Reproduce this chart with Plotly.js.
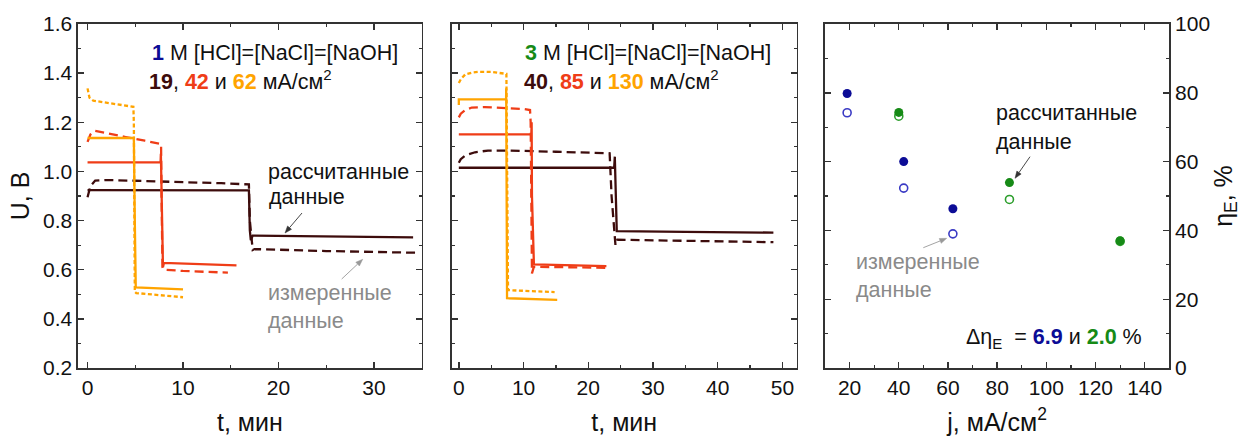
<!DOCTYPE html>
<html><head><meta charset="utf-8">
<script src="https://cdn.plot.ly/plotly-3.0.1.min.js"></script>
<style>html,body{margin:0;padding:0;background:#fff}#chart{width:1241px;height:436px}</style>
</head><body><div id="chart"></div>
<script>
// ---- Panel 1: 1 M, U vs t ----
const t19calc = [0, 16.9, 17.0, 17.1, 17.3, 26, 34.1];
const U19calc = [0.924, 0.923, 0.76, 0.72, 0.739, 0.736, 0.732];
const t19meas = [0, 0.3, 0.8, 2, 5, 10, 14, 16.9, 17.0, 17.3, 17.5, 25, 34.6];
const U19meas = [0.895, 0.94, 0.963, 0.965, 0.962, 0.957, 0.952, 0.947, 0.80, 0.68, 0.684, 0.676, 0.669];
const t42calc = [0, 7.65, 7.68, 7.72, 7.9, 8.0, 15.6];
const U42calc = [1.037, 1.037, 1.072, 1.0, 0.61, 0.628, 0.618];
const t42meas = [0, 0.3, 0.8, 2, 4, 6, 7.7, 7.75, 7.85, 8.0, 10, 14.7];
const U42meas = [1.12, 1.15, 1.165, 1.155, 1.14, 1.125, 1.112, 0.9, 0.61, 0.60, 0.595, 0.588];
const t62calc = [0, 4.85, 4.95, 5.05, 10.0];
const U62calc = [1.136, 1.136, 0.80, 0.528, 0.52];
const t62meas = [0, 0.2, 0.6, 2, 4, 4.8, 4.85, 4.95, 5.1, 7, 10.0];
const U62meas = [1.338, 1.30, 1.288, 1.28, 1.27, 1.263, 1.20, 0.51, 0.505, 0.498, 0.488];

// ---- Panel 2: 3 M, U vs t ----
const t40calc = [0, 24.0, 24.1, 24.2, 24.4, 35, 48.6];
const U40calc = [1.015, 1.015, 1.06, 0.9, 0.757, 0.754, 0.751];
const t40meas = [0, 0.3, 1, 2.5, 4.5, 8, 15, 23.3, 23.6, 24.2, 24.5, 35, 48.6];
const U40meas = [1.035, 1.05, 1.065, 1.078, 1.085, 1.085, 1.08, 1.074, 0.9, 0.70, 0.722, 0.717, 0.712];
const t85calc = [0, 11.2, 11.25, 11.3, 11.6, 17, 22.8];
const U85calc = [1.151, 1.151, 1.20, 0.9, 0.622, 0.618, 0.615];
const t85meas = [0, 0.3, 1, 2, 4, 6, 8, 10, 11.0, 11.1, 11.3, 11.6, 17, 22.8];
const U85meas = [1.22, 1.235, 1.25, 1.26, 1.262, 1.26, 1.258, 1.254, 1.25, 1.2, 0.585, 0.612, 0.61, 0.608];
const t130calc = [0, 0, 7.3, 7.32, 7.45, 11, 15.2];
const U130calc = [1.27, 1.293, 1.293, 1.338, 0.484, 0.48, 0.477];
const t130meas = [0, 0.3, 1, 2, 3, 5, 7.35, 7.5, 7.6, 11, 14.8];
const U130meas = [1.36, 1.375, 1.395, 1.402, 1.405, 1.405, 1.397, 0.9, 0.517, 0.513, 0.509];

// ---- Panel 3: energy efficiency vs current density ----
const j1M = [19, 42, 62];
const eta1Mcalc = [79.8, 60.0, 46.3];
const eta1Mmeas = [74.2, 52.3, 39.0];
const j3M = [40, 85, 130];
const eta3Mcalc = [74.3, 53.9, 37.0];
const eta3Mmeas = [73.2, 49.0, 36.8];

const C_BROWN = '#3d0c0c', C_RED = '#ef3d17', C_ORANGE = '#ffa400';
const C_BLUE = '#0c0c96', C_BLUE_O = '#3a3ac4', C_GREEN = '#168a16', C_GREEN_O = '#2c9e2c';
const FONT = 'Liberation Sans, Arial, sans-serif';
const W = 1241, H = 436;
const px = x => x / W, py = y => 1 - y / H;

function line(x, y, color, dash, xa, ya) {
  return {x, y, type: 'scatter', mode: 'lines', xaxis: xa, yaxis: ya,
    line: {color, width: 2.3, dash: dash || 'solid'}, showlegend: false, hoverinfo: 'skip'};
}
const D1 = '9px,5px', D2 = '4px,2.5px';
const traces = [
  line(t19meas, U19meas, C_BROWN, D1, 'x', 'y'),
  line(t19calc, U19calc, C_BROWN, null, 'x', 'y'),
  line(t42meas, U42meas, C_RED, D1, 'x', 'y'),
  line(t42calc, U42calc, C_RED, null, 'x', 'y'),
  line(t62meas, U62meas, C_ORANGE, D2, 'x', 'y'),
  line(t62calc, U62calc, C_ORANGE, null, 'x', 'y'),
  line(t40meas, U40meas, C_BROWN, D1, 'x2', 'y2'),
  line(t40calc, U40calc, C_BROWN, null, 'x2', 'y2'),
  line(t85meas, U85meas, C_RED, D1, 'x2', 'y2'),
  line(t85calc, U85calc, C_RED, null, 'x2', 'y2'),
  line(t130meas, U130meas, C_ORANGE, D2, 'x2', 'y2'),
  line(t130calc, U130calc, C_ORANGE, null, 'x2', 'y2'),
  {x: j1M, y: eta1Mmeas, type: 'scatter', mode: 'markers', xaxis: 'x3', yaxis: 'y3', showlegend: false,
   marker: {symbol: 'circle-open', size: 8, color: C_BLUE_O, line: {width: 1.6}}},
  {x: j3M, y: eta3Mmeas, type: 'scatter', mode: 'markers', xaxis: 'x3', yaxis: 'y3', showlegend: false,
   marker: {symbol: 'circle-open', size: 8, color: C_GREEN_O, line: {width: 1.6}}},
  {x: j1M, y: eta1Mcalc, type: 'scatter', mode: 'markers', xaxis: 'x3', yaxis: 'y3', showlegend: false,
   marker: {symbol: 'circle', size: 9, color: C_BLUE}},
  {x: j3M, y: eta3Mcalc, type: 'scatter', mode: 'markers', xaxis: 'x3', yaxis: 'y3', showlegend: false,
   marker: {symbol: 'circle', size: 9, color: C_GREEN}}
];

const tickFont = {family: FONT, size: 21, color: '#111'};
const titleFont = {family: FONT, size: 25, color: '#111'};
const axBase = {showline: true, linecolor: '#333', linewidth: 1.6, mirror: 'ticks', ticks: 'inside',
  ticklen: 6, tickwidth: 1.4, tickcolor: '#333', showgrid: false, zeroline: false, tickfont: tickFont};
const minorX = d => ({dtick: d, ticklen: 3, tickwidth: 1.2, tickcolor: '#333', ticks: 'inside', showgrid: false});
const yd = [py(368), py(24)];

const layout = {
  width: W, height: H, margin: {l: 0, r: 0, t: 0, b: 0}, paper_bgcolor: '#fff', plot_bgcolor: '#fff',
  font: {family: FONT},
  xaxis: Object.assign({}, axBase, {domain: [px(78), px(421.7)], range: [-1, 35], tick0: 0, dtick: 10,
    minor: minorX(5), anchor: 'y', title: {text: 't, мин', font: titleFont, standoff: 18}}),
  yaxis: Object.assign({}, axBase, {domain: yd, range: [0.2, 1.6], tick0: 0.2, dtick: 0.2, tickformat: '.1f',
    minor: minorX(0.1), anchor: 'x', title: {text: 'U, В', font: titleFont, standoff: 6}}),
  xaxis2: Object.assign({}, axBase, {domain: [px(451.7), px(796.7)], range: [-1.1, 52.2], tick0: 0, dtick: 10,
    minor: minorX(5), anchor: 'y2', title: {text: 't, мин', font: titleFont, standoff: 18}}),
  yaxis2: Object.assign({}, axBase, {domain: yd, range: [0.2, 1.6], tick0: 0.2, dtick: 0.2,
    minor: minorX(0.1), anchor: 'x2', showticklabels: false}),
  xaxis3: Object.assign({}, axBase, {domain: [px(825), px(1169.3)], range: [10, 150], tick0: 0, dtick: 20,
    minor: minorX(10), anchor: 'y3', title: {text: 'j, мА/см<sup>2</sup>', font: titleFont, standoff: 18}}),
  yaxis3: Object.assign({}, axBase, {domain: yd, range: [0, 100], tick0: 0, dtick: 20, side: 'right',
    minor: minorX(10), anchor: 'x3', title: {text: 'η<sub>E</sub>, %', font: titleFont, standoff: 10}}),
  annotations: [],
  shapes: []
};

const A = layout.annotations, S = layout.shapes;
function txt(text, x, y, color, size) {
  A.push({xref: 'paper', yref: 'paper', x: px(x), y: py(y), xanchor: 'left', yanchor: 'middle',
    text, showarrow: false, font: {family: FONT, size: size || 21.5, color: color || '#111'}});
}
function arrow(hx, hy, tx, ty, color) {
  const dx = hx - tx, dy = hy - ty, L = Math.hypot(dx, dy), ux = dx / L, uy = dy / L;
  const hl = 7, hw = 2.6;
  const bx = hx - ux * hl, by = hy - uy * hl;
  S.push({type: 'line', xref: 'paper', yref: 'paper', x0: px(tx), y0: py(ty), x1: px(bx), y1: py(by),
    line: {color, width: 0.9}});
  S.push({type: 'path', xref: 'paper', yref: 'paper', fillcolor: color, line: {color, width: 0.5},
    path: `M ${px(hx)} ${py(hy)} L ${px(bx - uy * hw)} ${py(by + ux * hw)} L ${px(bx + uy * hw)} ${py(by - ux * hw)} Z`});
}
const b = (s, c) => `<b><span style="color:${c}">${s}</span></b>`;
txt(`${b('1', C_BLUE)} M [HCl]=[NaCl]=[NaOH]`, 150, 53);
txt(`${b('19', C_BROWN)}, ${b('42', C_RED)} и ${b('62', C_ORANGE)} мА/см<sup>2</sup>`, 147, 80);
txt('рассчитанные', 266, 172);
txt('данные', 267, 197);
arrow(285, 233, 302, 213, '#333');
txt('измеренные', 266, 293, '#8a8a8a');
txt('данные', 266, 321, '#8a8a8a');
arrow(362.7, 259.3, 341.7, 279, '#999');

txt(`${b('3', C_GREEN)} M [HCl]=[NaCl]=[NaOH]`, 523, 53);
txt(`${b('40', C_BROWN)}, ${b('85', C_RED)} и ${b('130', C_ORANGE)} мА/см<sup>2</sup>`, 522, 80);

txt('рассчитанные', 994, 113);
txt('данные', 994, 142);
arrow(1015, 178.3, 1030, 156.7, '#333');
txt('измеренные', 854, 262, '#8a8a8a');
txt('данные', 854, 290, '#8a8a8a');
arrow(946.7, 238.3, 923.3, 247.7, '#999');
txt(`Δη<sub>E</sub>  = ${b('6.9', C_BLUE)} и ${b('2.0', C_GREEN)} %`, 964, 338);

Plotly.newPlot('chart', traces, layout, {staticPlot: true});
</script></body></html>
